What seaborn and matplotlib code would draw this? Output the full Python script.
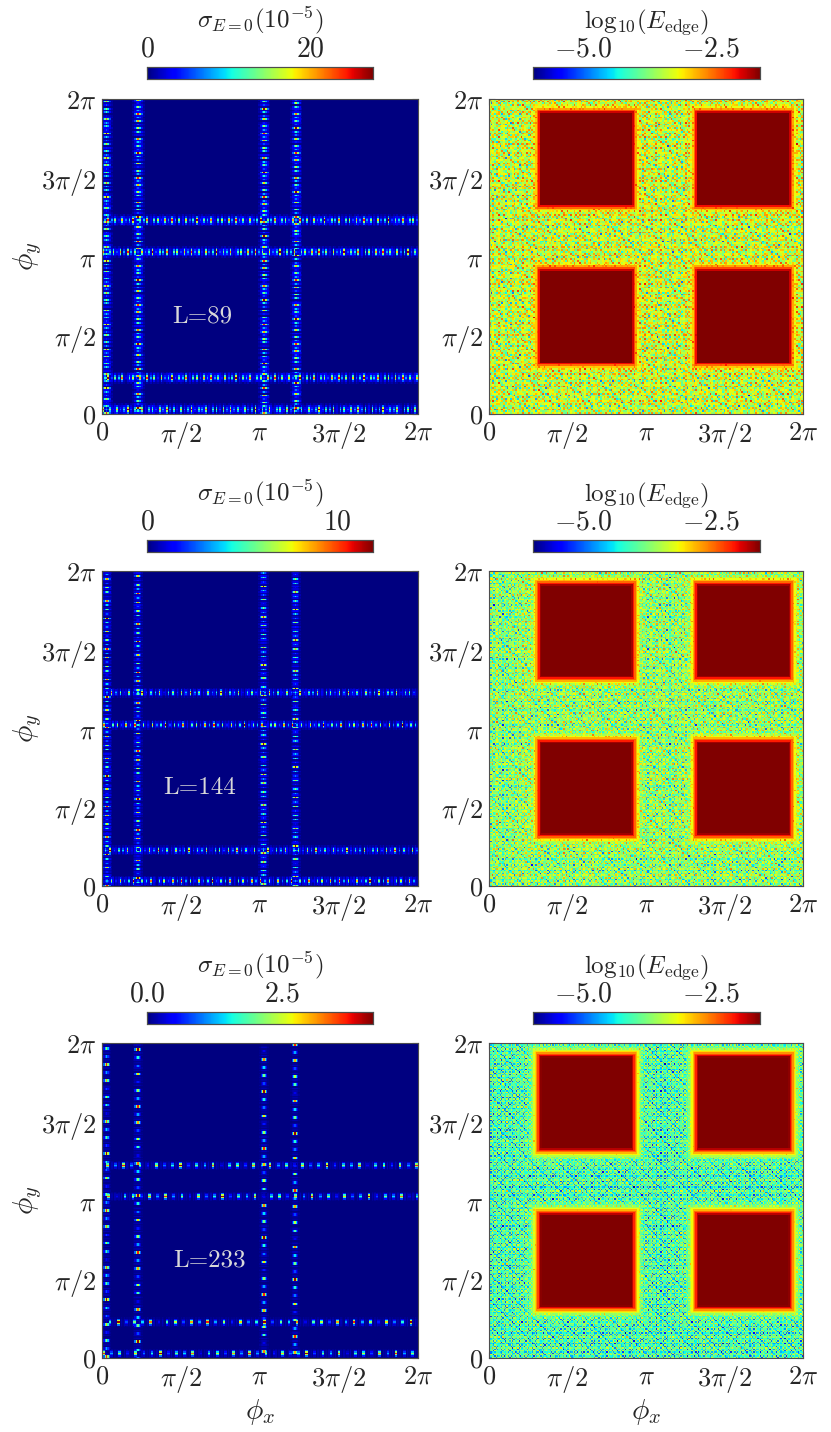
import numpy as np
import matplotlib
matplotlib.use('Agg')
import matplotlib.pyplot as plt
import seaborn as sns
from matplotlib.ticker import MultipleLocator, FixedLocator

# system sizes (rows of the figure) and grid resolution of each map
sizes = [89, 144, 233]
grid_n = [178, 216, 233]

# left column: sigma_{E=0} in units of 1e-5
sigma_max = [27.6, 11.9, 4.2]
sigma_peak = [27.0, 11.8, 4.1]
sigma_major = [[0, 20], [0, 10], [0.0, 2.5]]
sigma_minor = [5, 2, 0.5]
sigma_labels = [[r'$0$', r'$20$'], [r'$0$', r'$10$'], [r'$0.0$', r'$2.5$']]
spot_step = [2, 3, 6]
dash_len = [1, 1, 2]
haze_level = [0.09, 0.08, 0.04]
# lines of nonzero sigma (fraction of 2pi), same along phi_x and phi_y
line_pos = [0.012, 0.11, 0.51, 0.61]
spot_levels = [0.9, 0.3, 0.55, 0.15, 0.7, 0.25, 0.4, 1.0, 0.2, 0.5, 0.35, 0.8, 0.1,
               0.45, 0.6, 0.2, 0.75, 0.3]
line_profile = [0.25, 0.6, 1.0, 0.6, 0.25]
haze_profile = [0.4, 0.8, 1.0, 1.0, 1.0, 0.8, 0.4]
haze_mod = [1.0, 0.4, 1.3, 0.7, 0.2, 1.1, 0.5, 1.4, 0.3, 0.9, 0.6]

# right column: log10(E_edge)
edge_min, edge_max = -5.98, -1.53
edge_major = [-5.0, -2.5]
edge_labels = [r'$-5.0$', r'$-2.5$']
edge_bg = [-3.45, -3.75, -4.1]
square_lo = [0.17, 0.67]
square_hi = [0.45, 0.95]
bg_x_offsets = [0.15, -0.05, 0.2, -0.15, 0.05, 0.25, -0.1, 0.0, 0.15, -0.3, 0.1,
                0.1, -0.2, 0.2, 0.0, -0.1, 0.15, -0.25, 0.05, 0.2, -0.05, 0.1, -0.15]
bg_y_offsets = [0.1, -0.15, 0.2, 0.05, -0.25, 0.15, -0.05, 0.25, -0.1, 0.05, -0.35, 0.2, 0.0,
                0.1, -0.2, 0.25, -0.05, 0.1, -0.3, 0.15, 0.05, -0.1, 0.2, -0.25, 0.0,
                0.2, -0.1, 0.1, -0.05]
bg_d1_offsets = [0.3, -0.4, 0.1, 0.5, -0.2, -0.7, 0.35, 0.0, -0.3, 0.45, -0.1, 0.2,
                 -0.55, 0.25, 0.05, -0.35, 0.4, -0.15, 0.15]
bg_d2_offsets = [-0.2, 0.35, -0.5, 0.1, 0.4, -0.1, 0.25, -0.65, 0.3, 0.0, -0.3, 0.45,
                 -0.05, 0.2, -0.4, 0.15, 0.3]
halo_gain = 0.3

tick_pos = [0, 0.25, 0.5, 0.75, 1.0]
tick_labels = [r'$0$', r'$\pi/2$', r'$\pi$', r'$3\pi/2$', r'$2\pi$']
label_xy = [(0.317, 0.31), (0.31, 0.31), (0.34, 0.31)]

sns.set_style('white')
plt.rcParams['mathtext.fontset'] = 'cm'
plt.rcParams['font.family'] = ['DejaVu Serif']


def sigma_grid(n, r):
    step, dash, peak = spot_step[r], dash_len[r], sigma_peak[r]
    g = np.zeros((n, n))
    half = len(line_profile) // 2
    hhalf = len(haze_profile) // 2
    for li, p in enumerate(line_pos):
        along = np.zeros(n)
        for j in range(n):
            if (j + li) % step < dash:
                along[j] = spot_levels[((j + li) // step + 5 * li) % len(spot_levels)]
        haze = np.array([haze_mod[(j + 2 * li) % len(haze_mod)] for j in range(n)])
        haze = haze * haze_level[r]
        c = int(round(p * n))
        for o, w in zip(range(-hhalf, hhalf + 1), haze_profile):
            cc = c + o
            if 0 <= cc < n:
                g[:, cc] = np.maximum(g[:, cc], haze * w * peak)
                g[cc, :] = np.maximum(g[cc, :], haze * w * peak)
        for o, w in zip(range(-half, half + 1), line_profile):
            cc = c + o
            if 0 <= cc < n:
                g[:, cc] = np.maximum(g[:, cc], along * w * peak)
                g[cc, :] = np.maximum(g[cc, :], along * w * peak)
    return g


def tile(values, idx):
    return np.array([values[i % len(values)] for i in idx.ravel()]).reshape(idx.shape)


def edge_grid(n, base):
    ii, jj = np.meshgrid(np.arange(n), np.arange(n))
    g = (base + tile(bg_x_offsets, ii) + tile(bg_y_offsets, jj)
         + tile(bg_d1_offsets, ii + jj) + tile(bg_d2_offsets, ii - jj + 5 * n))
    c = np.arange(n) + 0.5
    dist = np.min([np.clip(np.maximum(lo * n - c, c - hi * n), 0, None)
                   for lo, hi in zip(square_lo, square_hi)], axis=0)
    d = np.maximum(dist[:, None], dist[None, :])
    g = g + halo_gain * np.exp(-d / (0.04 * n))
    ramp = -1.2 - 2.0 * d / (0.025 * n)
    return np.maximum(g, ramp)


def style_axes(ax, n, left, bottom):
    ax.invert_yaxis()
    for s in ax.spines.values():
        s.set_visible(True)
        s.set_linewidth(0.8)
        s.set_color('0.3')
    ax.set_xticks([n * t for t in tick_pos])
    ax.set_yticks([n * t for t in tick_pos])
    ax.set_xticklabels(tick_labels, rotation=0)
    ax.set_yticklabels(tick_labels, rotation=0)
    ax.xaxis.set_minor_locator(MultipleLocator(n / 16))
    ax.yaxis.set_minor_locator(MultipleLocator(n / 16))
    ax.tick_params(which='both', direction='in', top=True, right=True,
                   bottom=True, left=True, color='0.3', labelsize=19, pad=4)
    ax.tick_params(which='major', length=4)
    ax.tick_params(which='minor', length=2)
    ax.set_xlim(0, n)
    ax.set_ylim(0, n)
    if left:
        ax.set_ylabel(r'$\phi_y$', fontsize=21, labelpad=-2)
    else:
        ax.set_ylabel('')
    if bottom:
        ax.set_xlabel(r'$\phi_x$', fontsize=21, labelpad=2)
    else:
        ax.set_xlabel('')


def style_cbar(cax, major, labels, minor, title):
    cax.xaxis.set_ticks_position('top')
    cax.xaxis.set_label_position('top')
    cax.xaxis.set_major_locator(FixedLocator(major))
    cax.set_xticklabels(labels)
    cax.xaxis.set_minor_locator(MultipleLocator(minor))
    cax.tick_params(which='both', direction='in', length=3, color='0.3',
                    labelsize=20, pad=3)
    cax.set_xlabel(title, fontsize=18, labelpad=6)
    for s in cax.spines.values():
        s.set_visible(True)
        s.set_linewidth(0.8)
        s.set_color('0.3')


fig = plt.figure(figsize=(8.31, 14.32), dpi=100)
ax_bottoms = [0.7109, 0.3813, 0.0517]
cb_bottoms = [0.9448, 0.6145, 0.2849]

for r, L in enumerate(sizes):
    n = grid_n[r]
    axl = fig.add_axes([0.1227, ax_bottoms[r], 0.380, 0.220])
    axr = fig.add_axes([0.5884, ax_bottoms[r], 0.378, 0.220])
    cal = fig.add_axes([0.1769, cb_bottoms[r], 0.272, 0.0084])
    car = fig.add_axes([0.6414, cb_bottoms[r], 0.273, 0.0084])

    sns.heatmap(sigma_grid(n, r), ax=axl, cbar_ax=cal,
                cmap='jet', vmin=0, vmax=sigma_max[r],
                xticklabels=False, yticklabels=False,
                cbar_kws={'orientation': 'horizontal'}, rasterized=True)
    sns.heatmap(edge_grid(n, edge_bg[r]), ax=axr, cbar_ax=car,
                cmap='jet', vmin=edge_min, vmax=edge_max,
                xticklabels=False, yticklabels=False,
                cbar_kws={'orientation': 'horizontal'}, rasterized=True)

    style_axes(axl, n, True, r == 2)
    style_axes(axr, n, False, r == 2)
    style_cbar(cal, sigma_major[r], sigma_labels[r], sigma_minor[r],
               r'$\sigma_{E=0}(10^{-5})$')
    style_cbar(car, edge_major, edge_labels, 0.5,
               r'$\mathrm{log}_{10}(E_{\mathrm{edge}})$')

    lx, ly = label_xy[r]
    axl.text(lx * n, ly * n, 'L=%d' % L, family='cmr10',
             color='0.85', fontsize=18, ha='center', va='center')

fig.savefig('out.png', dpi=100)
